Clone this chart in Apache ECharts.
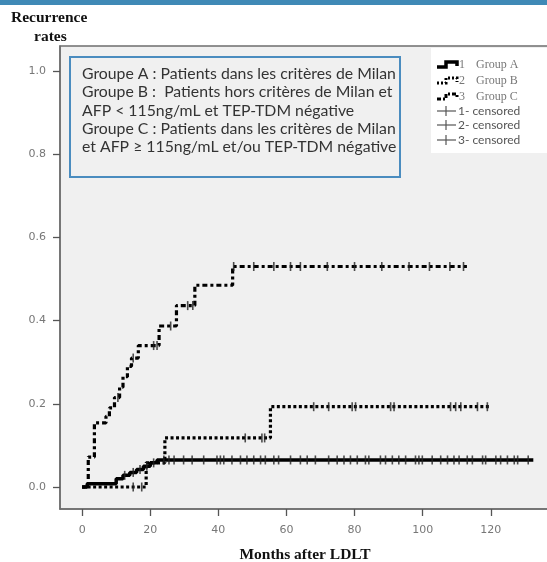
<!DOCTYPE html>
<html>
<head>
<meta charset="utf-8">
<script src="https://cdn.jsdelivr.net/npm/echarts@6/dist/echarts.min.js"></script>
<style>
html,body{margin:0;padding:0;background:#fff;}
#chart{width:547px;height:562px;}
</style>
</head>
<body>
<div id="chart"></div>
<script>
// ---- data (months after LDLT, cumulative recurrence rate) ----
const groupA_t = [0, 1.5, 10, 12, 14, 16, 18, 20, 22, 132.5];
const groupA_v = [0, 0.008, 0.02, 0.028, 0.035, 0.042, 0.05, 0.058, 0.065, 0.065];
const groupB_t = [0, 18.8, 24.3, 55.3, 119.7];
const groupB_v = [0, 0.058, 0.118, 0.193, 0.193];
const groupC_t = [0, 1.8, 3.6, 7, 8, 9.5, 11, 12, 13.3, 14.5, 16.5, 22.6, 27.7, 33.1, 44.2, 113];
const groupC_v = [0, 0.072, 0.154, 0.17, 0.19, 0.215, 0.24, 0.265, 0.29, 0.31, 0.34, 0.387, 0.436, 0.485, 0.53, 0.53];
const censorA = [12.5, 15, 17, 19, 21, 24, 25.5, 27, 29.8, 32.3, 35.7, 39.6, 40.6, 41.6, 44, 46.5, 48.4, 50.4, 52.4, 53.8, 56.3, 57.7, 61.2, 64.1, 66.1, 68.5, 72.4, 74.9, 76.9, 78.8, 80.8, 83.2, 84.2, 87.6, 89.1, 91.1, 93, 95, 97.9, 98.9, 99.9, 102.8, 105.3, 107.3, 109.2, 110.7, 113.1, 114.6, 117.6, 118.5, 121.5, 122.9, 124.9, 126.9, 127.9, 131];
const censorB = [15, 17.5, 47.9, 52.8, 53.6, 68, 72.4, 79.3, 80.3, 90.6, 91.6, 108.2, 109.7, 111.2, 116.1, 119];
const censorC = [10.5, 15, 21, 22, 26, 31, 32.5, 44.5, 50.4, 56.3, 61.2, 64.1, 72, 80, 88, 96, 102, 108, 112];
const yTicks = [0, 0.2, 0.4, 0.6, 0.8, 1.0];
const xTicks = [0, 20, 40, 60, 80, 100, 120];
const groupNames = ['Group A', 'Group B', 'Group C'];
const noteLines = [
  'Groupe A : Patients dans les critères de Milan',
  'Groupe B :  Patients hors critères de Milan et',
  'AFP < 115ng/mL et TEP-TDM négative',
  'Groupe C : Patients dans les critères de Milan',
  'et AFP ≥ 115ng/mL et/ou TEP-TDM négative'
];

function pairs(t, v) { return t.map((x, i) => [x, v[i]]); }
function stepAt(t, v, x) {
  let val = v[0];
  for (let i = 0; i < t.length; i++) { if (t[i] <= x) val = v[i]; }
  return val;
}
function censorPts(c, t, v) { return c.map(x => [x, stepAt(t, v, x)]); }

const chart = echarts.init(document.getElementById('chart'));
const serif = '"Liberation Serif", "Times New Roman", serif';
const sans = '"DejaVu Sans", sans-serif';
const note = 'Lato, "Open Sans", sans-serif';

const legendGraphics = [];
legendGraphics.push({type:'rect', shape:{x:431, y:48, width:120, height:105}, style:{fill:'#ffffff'}, z:10});
const symY = [65, 81, 97];
const dashes = [null, [2,2], [4,2,2,2]];
for (let i = 0; i < 3; i++) {
  const y = symY[i];
  legendGraphics.push({type:'polyline', shape:{points:[[437,y+2],[446,y+2],[446,y-3],[457,y-3],[457,y+1]]},
    style:{stroke:'#000', lineWidth: i===0?3.5:3, fill:null, lineDash: dashes[i]}, z:11});
  legendGraphics.push({type:'text', x:459, y:y, style:{text:String(i+1), font:'12px '+serif, fill:'#777', verticalAlign:'middle'}, z:11});
  legendGraphics.push({type:'text', x:476, y:y, style:{text:groupNames[i], font:'12px '+serif, fill:'#777', verticalAlign:'middle'}, z:11});
}
const cenY = [111, 125, 140];
for (let i = 0; i < 3; i++) {
  const y = cenY[i];
  legendGraphics.push({type:'line', shape:{x1:437, y1:y, x2:456, y2:y}, style:{stroke:'#555', lineWidth:1.2}, z:11});
  legendGraphics.push({type:'line', shape:{x1:446, y1:y-5, x2:446, y2:y+5}, style:{stroke:'#555', lineWidth:1.2}, z:11});
  legendGraphics.push({type:'text', x:458, y:y, style:{text:(i+1)+'- censored', font:'12px '+note, fill:'#555', verticalAlign:'middle'}, z:11});
}

const noteGraphics = [
  {type:'rect', shape:{x:70, y:57, width:330, height:120}, style:{fill:'#f0f0f0', stroke:'#4a8cbf', lineWidth:2}, z:10}
];
noteLines.forEach((s, i) => {
  noteGraphics.push({type:'text', x:82, y:74 + i*18.2, style:{text:s, font:'15.8px '+note, fill:'#333', verticalAlign:'middle'}, z:11});
});

const option = {
  animation: false,
  backgroundColor: '#ffffff',
  grid: {left:60, top:46, right:-3, bottom:53, outerBoundsMode:'none', containLabel:false, show:true, backgroundColor:'#f0f0f0', borderColor:'#6e6e6e', borderWidth:1.5},
  xAxis: {
    type:'value', min:-6.5, max:137.4,
    name:'Months after LDLT', nameLocation:'middle', nameGap:38,
    nameTextStyle:{fontFamily:serif, fontWeight:'bold', fontSize:15.5, color:'#111'},
    axisLine:{show:true, onZero:false, lineStyle:{color:'#6e6e6e', width:1.5}},
    axisTick:{show:true, customValues:xTicks, length:7, lineStyle:{color:'#555', width:1.3}},
    axisLabel:{customValues:xTicks, margin:16, color:'#777', fontSize:11, fontFamily:sans},
    splitLine:{show:false}
  },
  yAxis: {
    type:'value', min:-0.0529, max:1.0601,
    axisLine:{show:true, onZero:false, lineStyle:{color:'#6e6e6e', width:1.5}},
    axisTick:{show:true, customValues:yTicks, length:7, lineStyle:{color:'#555', width:1.3}},
    axisLabel:{customValues:yTicks, margin:14, color:'#777', fontSize:11, fontFamily:sans, formatter: v => v.toFixed(1)},
    splitLine:{show:false}
  },
  graphic: [
    {type:'rect', shape:{x:0, y:0, width:547, height:5}, style:{fill:'#3f89b6'}},
    {type:'text', x:11, y:18, style:{text:'Recurrence', font:'bold 15.5px '+serif, fill:'#111', verticalAlign:'middle'}},
    {type:'text', x:34, y:37, style:{text:'rates', font:'bold 15.5px '+serif, fill:'#111', verticalAlign:'middle'}},
    ...noteGraphics,
    ...legendGraphics
  ],
  series: [
    {name:groupNames[0], type:'line', step:'end', showSymbol:false, data:pairs(groupA_t, groupA_v),
      lineStyle:{color:'#000', width:3.5, type:'solid'}, z:3},
    {name:groupNames[1], type:'line', step:'end', showSymbol:false, data:pairs(groupB_t, groupB_v),
      lineStyle:{color:'#000', width:3.2, type:[3,2.5]}, z:2},
    {name:groupNames[2], type:'line', step:'end', showSymbol:false, data:pairs(groupC_t, groupC_v),
      lineStyle:{color:'#000', width:3.2, type:[5,3,3,3]}, z:2},
    {type:'scatter', data:censorPts(censorA, groupA_t, groupA_v), symbol:'rect', symbolSize:[1.6,9], itemStyle:{color:'#222'}, z:4},
    {type:'scatter', data:censorPts(censorB, groupB_t, groupB_v), symbol:'rect', symbolSize:[1.6,9], itemStyle:{color:'#222'}, z:4},
    {type:'scatter', data:censorPts(censorC, groupC_t, groupC_v), symbol:'rect', symbolSize:[1.6,9], itemStyle:{color:'#222'}, z:4}
  ]
};
chart.setOption(option);
</script>
</body>
</html>
